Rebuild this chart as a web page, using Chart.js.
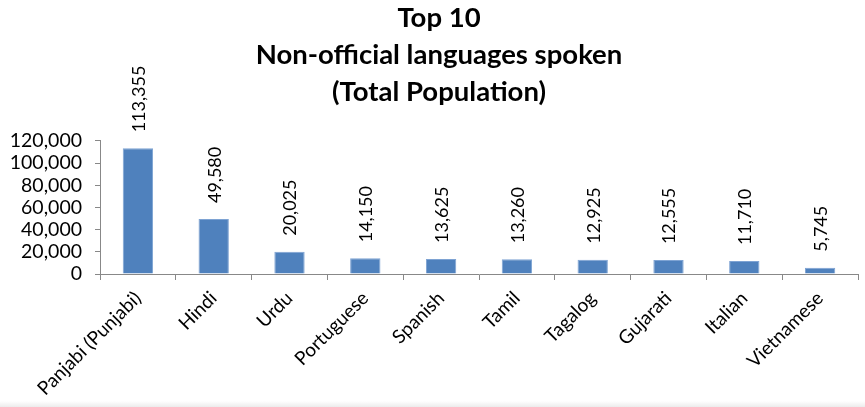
<!DOCTYPE html>
<html>
<head>
<meta charset="utf-8">
<script src="https://cdn.jsdelivr.net/npm/chart.js@4"></script>
<style>
html,body{margin:0;padding:0;background:#fff;}
#wrap{width:865px;height:407px;position:relative;background:linear-gradient(to bottom,#fff 0,#fff 401px,#ececec 407px);}
canvas{display:block;}
</style>
</head>
<body>
<div id="wrap"><canvas id="c" width="865" height="407"></canvas></div>
<script>
const categories = ["Panjabi (Punjabi)","Hindi","Urdu","Portuguese","Spanish","Tamil","Tagalog","Gujarati","Italian","Vietnamese"];
const speakers = [113355,49580,20025,14150,13625,13260,12925,12555,11710,5745];
const titleLines = ["Top 10","Non-official languages spoken","(Total Population)"];
const yTicks = [0,20000,40000,60000,80000,100000,120000];

const FONT = "Lato, 'Open Sans', sans-serif";
const fmt = v => v.toLocaleString('en-US');

const valueLabels = {
  id: 'valueLabels',
  afterDatasetsDraw(chart) {
    const ctx = chart.ctx;
    const meta = chart.getDatasetMeta(0);
    ctx.save();
    ctx.fillStyle = '#000';
    ctx.font = '18px ' + FONT;
    ctx.textAlign = 'left';
    ctx.textBaseline = 'middle';
    meta.data.forEach((bar, i) => {
      ctx.save();
      ctx.translate(bar.x + 1, bar.y - 16);
      ctx.rotate(-Math.PI / 2);
      ctx.fillText(fmt(speakers[i]), 0, 0);
      ctx.restore();
    });
    ctx.restore();
  }
};

const shiftTitle = {
  id: 'shiftTitle',
  afterLayout(chart) {
    const t = chart.titleBlock;
    if (t) { t.left += 10; t.right += 10; }
  }
};

new Chart(document.getElementById('c'), {
  type: 'bar',
  data: {
    labels: categories,
    datasets: [{
      data: speakers,
      backgroundColor: '#4F81BD',
      borderColor: '#7EA3D3',
      borderWidth: 1,
      categoryPercentage: 1,
      barPercentage: 0.4
    }]
  },
  options: {
    responsive: false,
    animation: false,
    layout: { padding: { left: 0, right: 7, top: 0, bottom: 0 } },
    plugins: {
      legend: { display: false },
      tooltip: { enabled: false },
      title: {
        display: true,
        text: titleLines,
        color: '#000',
        font: { family: FONT, size: 27.5, weight: 'bold', lineHeight: 1.345 },
        padding: { top: 0, bottom: 30 }
      }
    },
    scales: {
      x: {
        afterFit: axis => { axis.height = 133; },
        grid: { display: true, drawOnChartArea: false, offset: true, color: '#888', tickLength: 6 },
        border: { color: '#888', width: 1 },
        ticks: { color: '#000', font: { family: FONT, size: 19 }, minRotation: 45, maxRotation: 45, autoSkip: false, padding: 7 }
      },
      y: {
        min: 0, max: 120000,
        afterFit: axis => { axis.width = 100; },
        afterBuildTicks: axis => { axis.ticks = yTicks.map(v => ({ value: v })); },
        grid: { display: true, drawOnChartArea: false, color: '#888', tickLength: 5 },
        border: { color: '#888', width: 1 },
        ticks: { color: '#000', font: { family: FONT, size: 19.5 }, padding: 13, autoSkip: false, callback: v => fmt(v) }
      }
    }
  },
  plugins: [valueLabels, shiftTitle]
});
</script>
</body>
</html>
